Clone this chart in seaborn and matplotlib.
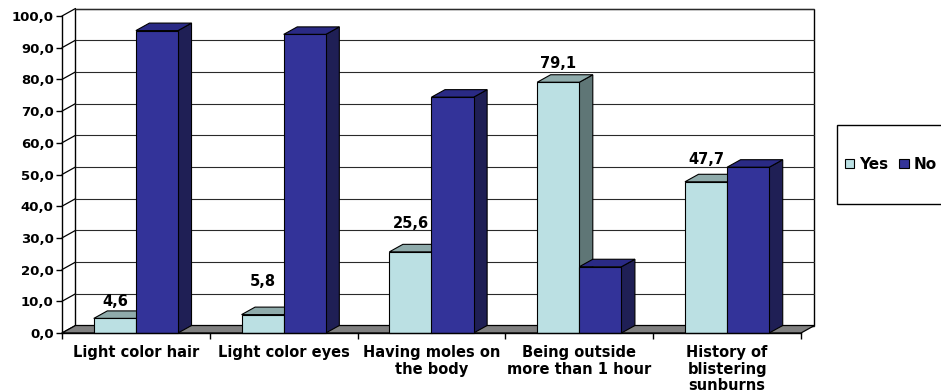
import matplotlib
matplotlib.use("Agg")
import matplotlib.pyplot as plt
from matplotlib.patches import Polygon, Rectangle, Patch
import seaborn as sns
import pandas as pd

categories = ["Light color hair", "Light color eyes", "Having moles on\nthe body",
              "Being outside\nmore than 1 hour", "History of\nblistering\nsunburns"]
yes_values = [4.6, 5.8, 25.6, 79.1, 47.7]
no_values = [95.4, 94.2, 74.4, 20.9, 52.3]
series = ["Yes", "No"]
y_ticks = [0, 10, 20, 30, 40, 50, 60, 70, 80, 90, 100]

# styles
front = {"Yes": "#BBE0E3", "No": "#333399"}
topc = {"Yes": "#8FABAB", "No": "#2A2A85"}
sidec = {"Yes": "#5F7676", "No": "#1F1F55"}
label_offsets_px = [17, 33, 28, 19, 22]
FONT = "DejaVu Sans"

sns.set_theme(style="white")
plt.rcParams["font.family"] = [FONT]
plt.rcParams["text.color"] = "black"
plt.rcParams["xtick.color"] = "black"
plt.rcParams["ytick.color"] = "black"
plt.rcParams["axes.labelcolor"] = "black"

W, H = 941, 392
fig = plt.figure(figsize=(W / 100, H / 100), dpi=100)
ax_l, ax_r, ax_t, ax_b = 62, 801, 16, 333
ax = fig.add_axes([ax_l / W, (H - ax_b) / H, (ax_r - ax_l) / W, (ax_b - ax_t) / H])

df = pd.DataFrame({
    "Factor": categories * 2,
    "Answer": ["Yes"] * len(categories) + ["No"] * len(categories),
    "Percent": yes_values + no_values,
})

sns.barplot(data=df, x="Factor", y="Percent", hue="Answer", hue_order=series,
            palette=front, saturation=1, width=0.57, gap=0, legend=False,
            edgecolor="black", linewidth=0.8, ax=ax, zorder=3)

ax.set_xlim(-0.5, len(categories) - 0.5)
ax.set_ylim(0, 100)

# depth offsets in data units
px_x = (ax_r - ax_l) / len(categories)
px_y = (ax_b - ax_t) / 100
DX = 13.5 / px_x
DY = 7.5 / px_y
x0, x1 = -0.5, len(categories) - 0.5

# back wall
ax.add_patch(Polygon([(x0 + DX, DY), (x1 + DX, DY), (x1 + DX, 100 + DY), (x0 + DX, 100 + DY)],
                     closed=True, fc="white", ec="black", lw=1.0, zorder=0.2, clip_on=False))
# gridlines on back wall + left wall diagonals
for yv in y_ticks:
    ax.plot([x0 + DX, x1 + DX], [yv + DY, yv + DY], color="#2a2a2a", lw=0.8, zorder=0.5, clip_on=False)
    ax.plot([x0, x0 + DX], [yv, yv + DY], color="black", lw=0.9, zorder=0.5, clip_on=False)
# floor
ax.add_patch(Polygon([(x0, 0), (x1, 0), (x1 + DX, DY), (x0 + DX, DY)], closed=True,
                     fc="#808080", ec="black", lw=0.9, zorder=1, clip_on=False))

# 3D faces of bars
bars = [b for b in list(ax.patches) if isinstance(b, Rectangle)]
n = len(categories)
for i, b in enumerate(bars):
    s = series[i // n]
    bx, bw, bh = b.get_x(), b.get_width(), b.get_height()
    z = 2 + (bx / 10.0)
    ax.add_patch(Polygon([(bx + bw, 0), (bx + bw + DX, DY), (bx + bw + DX, bh + DY), (bx + bw, bh)],
                         closed=True, fc=sidec[s], ec="black", lw=0.8, zorder=z, clip_on=False))
    ax.add_patch(Polygon([(bx, bh), (bx + bw, bh), (bx + bw + DX, bh + DY), (bx + DX, bh + DY)],
                         closed=True, fc=topc[s], ec="black", lw=0.8, zorder=z, clip_on=False))
for b in bars:
    b.set_zorder(3 + b.get_x() / 10.0)
    b.set_clip_on(False)

# value labels on Yes bars
for i, b in enumerate(bars[:n]):
    v = yes_values[i]
    ax.annotate(f"{v:.1f}".replace(".", ","), xy=(b.get_x() + b.get_width() / 2, v),
                xytext=(0, label_offsets_px[i] * 0.72), textcoords="offset points",
                ha="center", va="center", fontsize=10.5, fontweight="bold", color="black",
                zorder=10, annotation_clip=False)

# axes styling
for sp in ["top", "right"]:
    ax.spines[sp].set_visible(False)
for sp in ["left", "bottom"]:
    ax.spines[sp].set_color("black")
    ax.spines[sp].set_linewidth(1.0)
    ax.spines[sp].set_zorder(6)

ax.set_yticks(y_ticks)
ax.set_yticklabels([f"{t:.1f}".replace(".", ",") for t in y_ticks], fontsize=9.5,
                   fontweight="bold", color="black")
ax.tick_params(axis="y", direction="out", length=4, width=1, color="black", pad=2, left=True)

ax.set_xticks(range(n))
ax.set_xticklabels(categories, fontsize=10.5, fontweight="bold", linespacing=1.1, color="black")
ax.set_xticks([k - 0.5 for k in range(n + 1)], minor=True)
ax.tick_params(axis="x", which="major", length=0, pad=9)
ax.tick_params(axis="x", which="minor", direction="out", length=4, width=1, color="black", bottom=True)
ax.set_xlabel("")
ax.set_ylabel("")
ax.patch.set_alpha(0)

# legend
lg_l, lg_t, lg_b = 837, 125, 204
fig.patches.append(Rectangle((lg_l / W, (H - lg_b) / H), 0.3, (lg_b - lg_t) / H,
                             transform=fig.transFigure, fc="white", ec="black", lw=1.0, zorder=0))
handles = [Patch(fc=front[s], ec="black", lw=0.8, label=s) for s in series]
fig.legend(handles=handles, ncol=2, loc="center left",
           bbox_to_anchor=(845 / W, (H - (lg_t + lg_b) / 2) / H), frameon=False,
           prop={"size": 11, "weight": "bold"}, handlelength=0.6, handleheight=0.6,
           handletextpad=0.35, columnspacing=0.7, borderpad=0, borderaxespad=0)

fig.savefig("out.png", dpi=100)
